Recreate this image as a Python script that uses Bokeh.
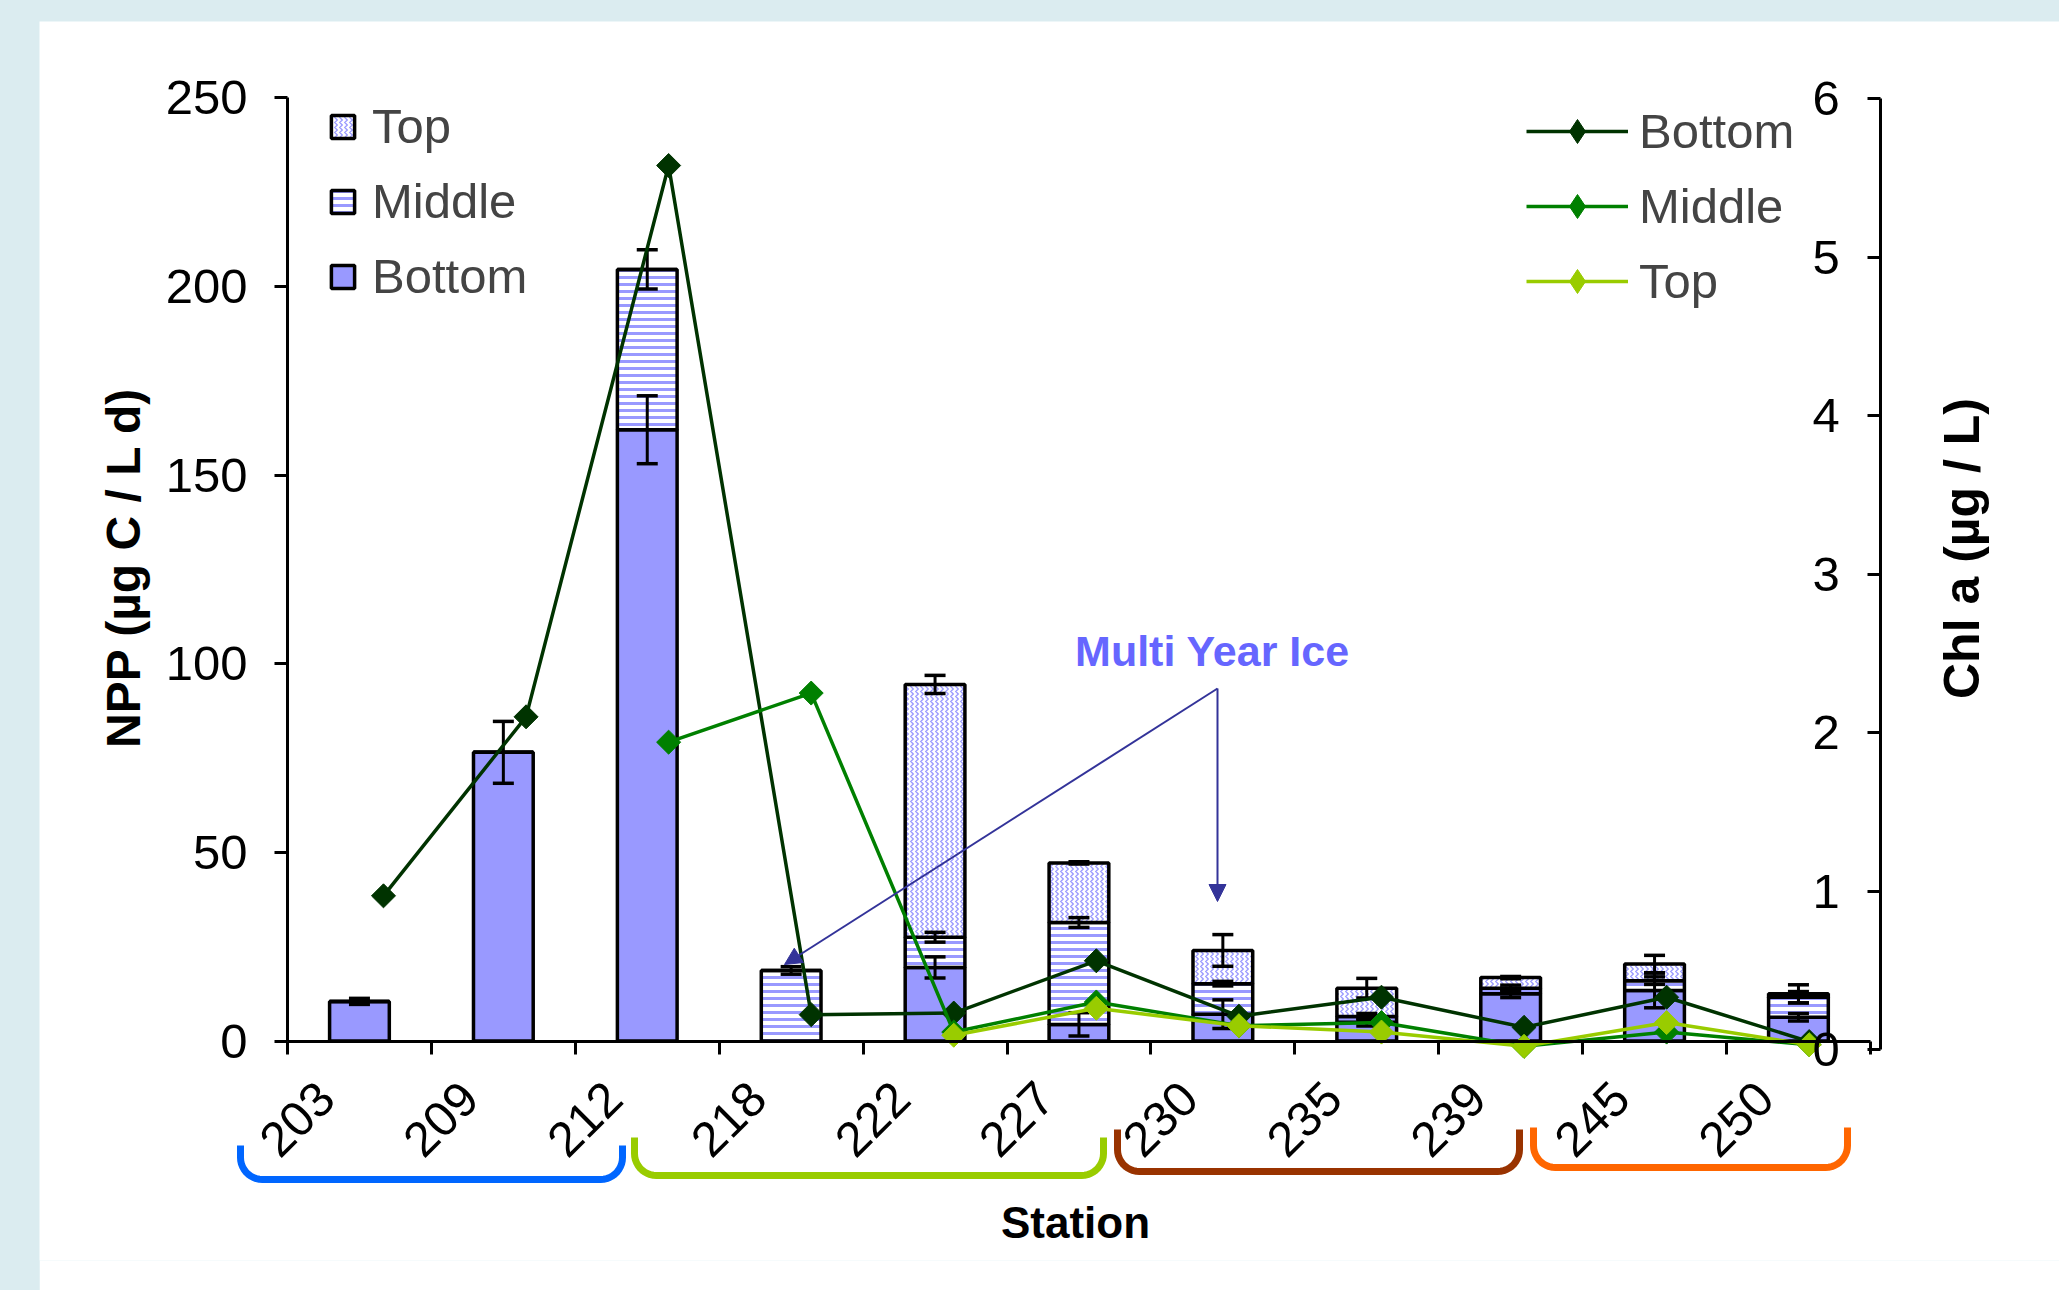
import math
import numpy as np
from bokeh.plotting import figure
from bokeh.models import (Range1d, LinearAxis, FixedTicker, Legend, LegendItem,
                          Arrow, NormalHead)
from bokeh.layouts import column
from bokeh.core.properties import value
from bokeh.embed import file_html
from bokeh.resources import INLINE

# ---------------- data ----------------
stations = ["203", "209", "212", "218", "222", "227", "230", "235", "239", "245", "250"]

# NPP (ug C / L d), stacked bars
npp_bottom = [10.5, 76.5, 162.0, 0.0, 19.5, 4.4, 7.1, 5.0, 12.5, 13.4, 6.3]
npp_middle = [0.0, 0.0, 42.5, 18.7, 8.0, 27.0, 8.1, 1.5, 1.5, 2.6, 5.3]
npp_top = [0.0, 0.0, 0.0, 0.0, 67.0, 15.8, 8.8, 7.5, 2.8, 4.4, 0.9]
err_bottom = [0.8, 8.2, 9.0, 0.0, 2.8, 3.1, 3.8, 1.0, 1.0, 4.6, 1.0]
err_middle = [0.0, 0.0, 5.2, 1.0, 1.3, 1.3, 0.6, 0.8, 0.8, 1.0, 1.5]
err_top = [0.0, 0.0, 0.0, 0.0, 2.4, 0.3, 4.2, 2.6, 0.3, 2.3, 2.4]

# Chl a (ug / L), lines
nan = float("nan")
chl_bottom = [0.97, 2.10, 5.58, 0.22, 0.23, 0.56, 0.21, 0.33, 0.14, 0.33, 0.05]
chl_middle = [nan, nan, 1.94, 2.25, 0.11, 0.30, 0.15, 0.17, 0.02, 0.11, 0.03]
chl_top = [nan, nan, nan, nan, 0.09, 0.26, 0.15, 0.11, 0.02, 0.17, 0.03]

npp_ticks = [0, 50, 100, 150, 200, 250]
chl_ticks = [0, 1, 2, 3, 4, 5, 6]

# station groups (first index, last index, colour)
groups = [(0, 2, "#0066ff"), (3, 5, "#99cc00"), (6, 8, "#993300"), (9, 10, "#ff6600")]

# ---------------- geometry / style ----------------
FONT = "Liberation Sans"
PAGE_W, PAGE_H = 2059, 1290
PANEL_X, PANEL_Y = 39, 21
AXIS_L, AXIS_R = 287, 1880          # pixel positions of left / right value axes
FRAME_L, FRAME_R = PANEL_X, PAGE_W
FRAME_T, FRAME_B = 21, 1260
CAT_PX = 143.9
NPP_ZERO_PX, NPP_PX = 1040.5, 3.7732
CHL_ZERO_PX, CHL_PX = 1049.0, 158.42
CHL_X0_PX, CHL_CAT_PX = 311.7, 142.57

def xd(px):
    return (px - AXIS_L) / CAT_PX

def yd(py):
    return (NPP_ZERO_PX - py) / NPP_PX

p = figure(width=PAGE_W - PANEL_X, height=PAGE_H - PANEL_Y,
           x_range=Range1d(xd(FRAME_L), xd(FRAME_R)), y_range=Range1d(yd(FRAME_B), yd(FRAME_T)),
           output_backend="svg", toolbar_location=None,
           min_border_left=0, min_border_right=0,
           min_border_top=FRAME_T - PANEL_Y, min_border_bottom=PAGE_H - FRAME_B,
           background_fill_color="white", border_fill_color="white",
           outline_line_color=None)
p.margin = (PANEL_Y, 0, 0, PANEL_X)
p.grid.visible = False

p.extra_x_ranges = {"chl_x": Range1d(-(CHL_X0_PX - FRAME_L) / CHL_CAT_PX,
                                      (FRAME_R - CHL_X0_PX) / CHL_CAT_PX)}
p.extra_y_ranges = {"chl": Range1d((CHL_ZERO_PX - FRAME_B) / CHL_PX,
                                    (CHL_ZERO_PX - FRAME_T) / CHL_PX)}

# ---------------- axes ----------------
xa = p.xaxis[0]
xa.fixed_location = 0
xa.bounds = (0, len(stations))
xa.ticker = FixedTicker(ticks=list(range(len(stations) + 1)))
xa.major_tick_out = 13
xa.major_tick_in = 0
xa.minor_tick_line_color = None
xa.major_label_text_color = None
xa.axis_line_width = 3
xa.major_tick_line_width = 3
xa.axis_line_color = "black"

ya = p.yaxis[0]
ya.fixed_location = 0
ya.bounds = (0, 250)
ya.ticker = FixedTicker(ticks=npp_ticks)
ya.major_tick_out = 13
ya.major_tick_in = 0
ya.minor_tick_line_color = None
ya.axis_line_width = 3
ya.major_tick_line_width = 3
ya.major_label_standoff = 27
ya.major_label_text_font = FONT
ya.major_label_text_font_size = "49px"
ya.major_label_text_color = "black"

ra = LinearAxis(y_range_name="chl", bounds=(0, 6), ticker=FixedTicker(ticks=chl_ticks),
                fixed_location=xd(AXIS_R))
ra.major_tick_in = 13
ra.major_tick_out = 0
ra.minor_tick_line_color = None
ra.axis_line_width = 3
ra.major_tick_line_width = 3
ra.major_label_standoff = -68
ra.major_label_text_font = FONT
ra.major_label_text_font_size = "49px"
ra.major_label_text_color = "black"
p.add_layout(ra, "right")

# axis titles
p.text(x=[xd(123)], y=[yd(567)], text=["NPP (µg C / L d)"], angle=math.pi / 2,
       text_font=value(FONT), text_font_style="bold", text_font_size="48px",
       text_color="black", text_align="center", text_baseline="middle")
p.text(x=[xd(1961)], y=[yd(548)], text=["Chl a (µg / L)"], angle=math.pi / 2,
       text_font=value(FONT), text_font_style="bold", text_font_size="50px",
       text_color="black", text_align="center", text_baseline="middle")

# ---------------- bars ----------------
xc = np.arange(len(stations)) + 0.5
b_top = np.array(npp_bottom)
m_top = b_top + np.array(npp_middle)
t_top = m_top + np.array(npp_top)
BW = 0.415

r_bot = p.vbar(x=xc, width=BW, bottom=0, top=b_top, fill_color="#9999ff",
               line_color="black", line_width=3.5)
r_mid = p.vbar(x=xc, width=BW, bottom=b_top, top=m_top, fill_color="white",
               hatch_pattern="horizontal_line", hatch_color="#9999ff",
               hatch_weight=3, hatch_scale=7, line_color="black", line_width=3.5)
r_top = p.vbar(x=xc, width=BW, bottom=m_top, top=t_top, fill_color="white",
               hatch_pattern="vertical_wave", hatch_color="#9a9aff",
               hatch_weight=1.3, hatch_scale=5, line_color="black", line_width=3.5)

# error bars
ex, elo, ehi = [], [], []
for centers, errs in ((b_top, err_bottom), (m_top, err_middle), (t_top, err_top)):
    for i, (c, e) in enumerate(zip(centers, errs)):
        if e > 0:
            ex.append(xc[i]); elo.append(c - e); ehi.append(c + e)
p.segment(x0=ex, y0=elo, x1=ex, y1=ehi, line_color="black", line_width=3)
p.scatter(x=ex + ex, y=elo + ehi, marker="dash", size=21, line_color="black", line_width=3.5)

# ---------------- lines ----------------
xl = np.arange(len(stations)) + 0.5
line_r = {}
for name, vals, col in (("Bottom", chl_bottom, "#003300"),
                        ("Middle", chl_middle, "#008000"),
                        ("Top", chl_top, "#99cc00")):
    l = p.line(x=xl, y=vals, x_range_name="chl_x", y_range_name="chl",
               line_color=col, line_width=3.5)
    p.scatter(x=xl, y=vals, x_range_name="chl_x", y_range_name="chl",
              marker="square", angle=math.pi / 4, size=17,
              fill_color=col, line_color=col)
    # legend-only diamond (no visible data point)
    d = p.scatter(x=[nan], y=[nan], x_range_name="chl_x", y_range_name="chl",
                  marker="diamond", fill_color=col, line_color=col)
    line_r[name] = [l, d]

# ---------------- annotations ----------------
p.text(x=[xd(1212)], y=[yd(650)], text=["Multi Year Ice"], text_font=value(FONT),
       text_font_style="bold", text_font_size="43px", text_color="#6666ff",
       text_align="center", text_baseline="middle")
for ex_px, ey_px in ((1217, 901), (784, 964)):
    p.add_layout(Arrow(x_start=xd(1217), y_start=yd(688), x_end=xd(ex_px), y_end=yd(ey_px),
                       line_color="#333399", line_width=2,
                       end=NormalHead(size=17, fill_color="#333399", line_color="#333399")))

# station labels
p.text(x=np.arange(len(stations)) + 0.067, y=[yd(1118.7)] * len(stations), text=stations,
       angle=math.pi / 4, text_font=value(FONT), text_font_size="49px",
       text_color="black", text_align="center", text_baseline="middle")
p.text(x=[xd(1075)], y=[yd(1222)], text=["Station"], text_font=value(FONT),
       text_font_style="bold", text_font_size="44px", text_color="black",
       text_align="center", text_baseline="middle")

# group brackets
BR_PX = [(240, 622, 1145, 1179), (634, 1103, 1137, 1175),
         (1117, 1519, 1129, 1171), (1533, 1847, 1127, 1167)]
R = 22
for (g0, g1, col), (xl_px, xr_px, yt_px, yb_px) in zip(groups, BR_PX):
    pts = [(xl_px, yt_px)]
    for t in np.linspace(np.pi, np.pi / 2, 12):
        pts.append((xl_px + R + R * math.cos(t), yb_px - R + R * math.sin(t)))
    for t in np.linspace(np.pi / 2, 0, 12):
        pts.append((xr_px - R + R * math.cos(t), yb_px - R + R * math.sin(t)))
    pts.append((xr_px, yt_px))
    p.line(x=[xd(a) for a, b in pts], y=[yd(b) for a, b in pts],
           line_color=col, line_width=7, line_join="round")

# ---------------- legends ----------------
leg1 = Legend(items=[LegendItem(label="Top", renderers=[r_top]),
                     LegendItem(label="Middle", renderers=[r_mid]),
                     LegendItem(label="Bottom", renderers=[r_bot])],
              location=(328 - FRAME_L, FRAME_B - (98 + 206)),
              glyph_width=29, glyph_height=29, label_standoff=15,
              label_height=56, spacing=19, padding=0, margin=0,
              label_text_font=FONT, label_text_font_size="49px",
              border_line_alpha=0, background_fill_alpha=0)
leg2 = Legend(items=[LegendItem(label=k, renderers=line_r[k]) for k in ("Bottom", "Middle", "Top")],
              location=(1526 - FRAME_L, FRAME_B - (101 + 210)),
              glyph_width=102, glyph_height=60, label_standoff=11,
              label_height=60, spacing=15, padding=0, margin=0,
              label_text_font=FONT, label_text_font_size="49px",
              border_line_alpha=0, background_fill_alpha=0)
p.add_layout(leg1)
p.add_layout(leg2)

root = column(p, styles={"background-color": "#dbecf0"})
open("out.html", "w").write(file_html(root, INLINE))
